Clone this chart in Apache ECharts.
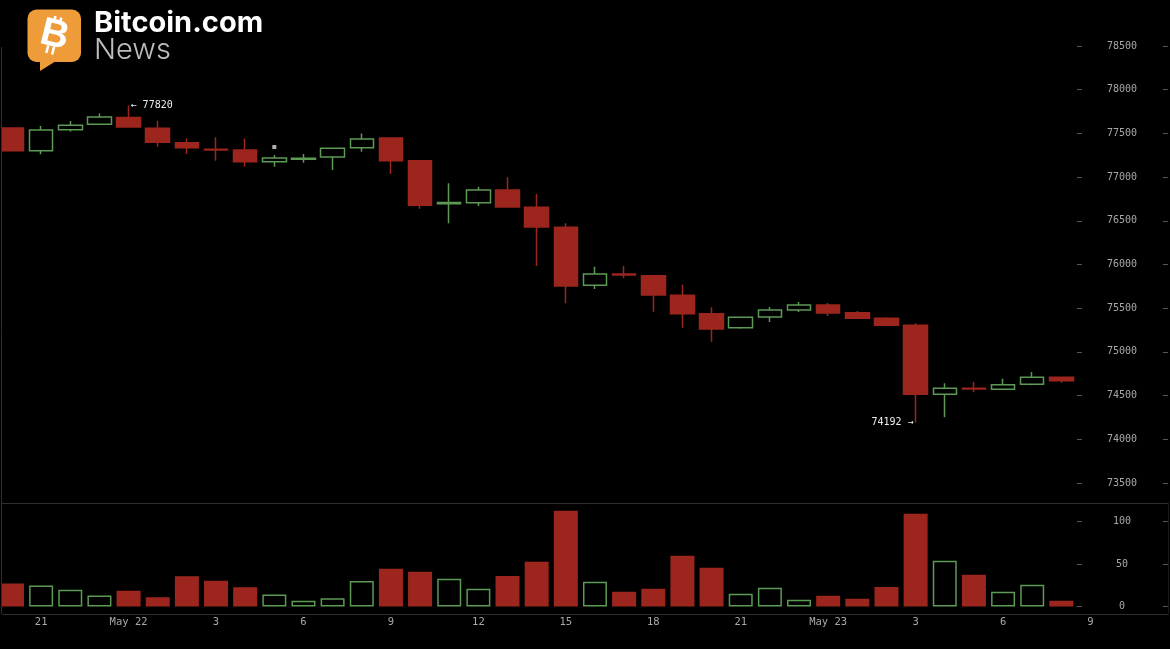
<!DOCTYPE html>
<html>
<head>
<meta charset="utf-8">
<title>BTC/USD hourly</title>
<script src="https://cdn.jsdelivr.net/npm/echarts@6/dist/echarts.min.js"></script>
<style>
html, body { margin: 0; padding: 0; background: #000; }
#chart { width: 1170px; height: 649px; filter: blur(0.35px); }
</style>
</head>
<body>
<div id="chart"></div>
<script>
// hourly candles, one label every third hour
var hourLabels = ['', '21', '', '', 'May 22', '', '', '3', '', '', '6', '', '', '9', '', '', '12', '', '', '15', '', '', '18', '', '', '21', '', '', 'May 23', '', '', '3', '', '', '6', '', '', '9', '', '', ''];
var opens  = [77561, 77301, 77542, 77604, 77683, 77558, 77393, 77320, 77309, 77176, 77205, 77229, 77336, 77447, 77187, 76695, 76707, 76852, 76654, 76425, 75762, 75890, 75872, 75647, 75437, 75275, 75399, 75479, 75536, 75448, 75384, 75304, 74515, 74585, 74572, 74629, 74709];
var closes = [77301, 77538, 77592, 77687, 77573, 77398, 77336, 77310, 77176, 77218, 77215, 77329, 77435, 77187, 76677, 76710, 76852, 76657, 76429, 75754, 75891, 75880, 75651, 75437, 75262, 75395, 75479, 75536, 75445, 75384, 75304, 74515, 74583, 74575, 74625, 74709, 74670];
var lows   = [77295, 77260, 77523, 77600, 77570, 77347, 77264, 77187, 77118, 77118, 77164, 77081, 77290, 77035, 76638, 76471, 76669, 76655, 75982, 75556, 75719, 75845, 75460, 75277, 75116, 75265, 75342, 75456, 75410, 75375, 75300, 74192, 74252, 74538, 74564, 74618, 74647];
var highs  = [77565, 77584, 77641, 77729, 77820, 77645, 77443, 77455, 77443, 77252, 77264, 77335, 77500, 77450, 77190, 76929, 76890, 76997, 76806, 76471, 75975, 75982, 75880, 75769, 75510, 75400, 75513, 75570, 75560, 75468, 75395, 75327, 74641, 74659, 74693, 74770, 74712];
var volumes = [27, 24.7, 19.6, 13, 18.4, 11, 35.7, 30.2, 22.7, 14, 6.7, 9.8, 30, 44.3, 41, 32.6, 21, 36, 52.6, 112.6, 29, 17.3, 21, 59.6, 45.5, 15, 22, 7.9, 12.6, 9, 23, 109, 53.8, 37.3, 17.3, 25.5, 6.7];
var priceTicks = [73500, 74000, 74500, 75000, 75500, 76000, 76500, 77000, 77500, 78000, 78500];
var volumeTicks = [0, 50, 100];
var markerDot = [9, 77344];

var RED = '#9c261e', GREEN = '#5c9a55', AXIS = '#2e2e2e', TICK = '#555', LABEL = '#a8a8a8';
var MONO = '"DejaVu Sans Mono", monospace';

var candleData = opens.map(function (o, i) { return [o, closes[i], lows[i], highs[i]]; });
var volumeData = volumes.map(function (v, i) {
    var up = closes[i] > opens[i];
    return {
        value: v,
        itemStyle: { color: up ? '#000' : RED, borderColor: up ? GREEN : RED, borderWidth: 1.5 }
    };
});

// a right hand value axis, moved back in from the edge of the grid
function sideAxis(grid, min, max, ticks, offset, withLabels, withLine) {
    return {
        type: 'value', gridIndex: grid, position: 'right', offset: offset,
        min: min, max: max, splitLine: { show: false },
        axisLine: { show: withLine, lineStyle: { color: AXIS } },
        axisTick: { show: true, inside: true, length: 5, customValues: ticks, lineStyle: { color: TICK } },
        axisLabel: {
            show: withLabels, inside: true, margin: 46, align: 'center', customValues: ticks,
            color: LABEL, fontFamily: MONO, fontSize: 10,
            formatter: function (v) { return String(v); }
        }
    };
}

var option = {
    backgroundColor: '#000',
    animation: false,
    grid: [
        { left: -2.6, top: 46, width: 1195.15, height: 457, outerBoundsMode: 'none' },
        { left: -2.6, top: 503, width: 1195.15, height: 111, outerBoundsMode: 'none' }
    ],
    xAxis: [
        {
            type: 'category', gridIndex: 0, data: hourLabels,
            axisLine: { onZero: false, lineStyle: { color: AXIS } },
            axisTick: { show: false }, axisLabel: { show: false }
        },
        {
            type: 'category', gridIndex: 1, data: hourLabels,
            axisLine: { onZero: false, lineStyle: { color: AXIS } },
            axisTick: { show: false },
            axisLabel: { interval: 0, margin: 3, color: LABEL, fontFamily: MONO, fontSize: 10.5 }
        }
    ],
    yAxis: [
        sideAxis(0, 73271, 78500, priceTicks, -24.6, true, false),
        sideAxis(0, 73271, 78500, priceTicks, -110.6, false, false),
        sideAxis(1, -8.82, 121.76, volumeTicks, -24.6, true, true),
        sideAxis(1, -8.82, 121.76, volumeTicks, -110.6, false, false)
    ],
    series: [
        {
            type: 'candlestick', xAxisIndex: 0, yAxisIndex: 0, data: candleData, barWidth: 24,
            itemStyle: { color: '#000', color0: RED, borderColor: GREEN, borderColor0: RED, borderWidth: 1.5 },
            markPoint: {
                symbol: 'circle', symbolSize: 0, silent: true,
                data: [
                    { coord: [4, highs[4]], label: { formatter: '← ' + highs[4], position: 'right', distance: 2 } },
                    { coord: [31, lows[31]], label: { formatter: lows[31] + ' →', position: 'left', distance: 2 } }
                ],
                label: { color: '#eee', fontFamily: MONO, fontSize: 10 }
            }
        },
        {
            type: 'scatter', xAxisIndex: 0, yAxisIndex: 0, data: [markerDot],
            symbol: 'rect', symbolSize: 4, itemStyle: { color: '#ddd' }
        },
        { type: 'bar', xAxisIndex: 1, yAxisIndex: 2, data: volumeData, barWidth: 24 }
    ],
    graphic: [
        // left frame line, the first candle is cut off by it
        { type: 'rect', z: 100, shape: { x: 0, y: 0, width: 2, height: 649 }, style: { fill: '#000' } },
        { type: 'line', z: 101, shape: { x1: 1.5, y1: 47, x2: 1.5, y2: 614 }, style: { stroke: AXIS, lineWidth: 1 } },
        { type: 'rect', z: 100, shape: { x: 1168.5, y: 0, width: 2, height: 649 }, style: { fill: '#000' } },
        // logo
        { type: 'rect', z: 102, shape: { x: 27.5, y: 9.5, width: 53.5, height: 52.5, r: 9 }, style: { fill: '#ee9b3a' } },
        { type: 'polygon', z: 102, shape: { points: [[40, 60], [40, 71], [56, 61]] }, style: { fill: '#ee9b3a' } },
        {
            type: 'group', z: 103, x: 54.5, y: 35.5, rotation: -14 * Math.PI / 180,
            children: [
                { type: 'text', z: 103, style: { x: 0, y: 0, text: 'B', fill: '#fff', font: 'bold 39px "Liberation Sans"', align: 'center', verticalAlign: 'middle' } },
                { type: 'rect', z: 103, shape: { x: -5, y: -19, width: 2.6, height: 7 }, style: { fill: '#fff' } },
                { type: 'rect', z: 103, shape: { x: 1, y: -19, width: 2.6, height: 7 }, style: { fill: '#fff' } },
                { type: 'rect', z: 103, shape: { x: -5, y: 11, width: 2.6, height: 8 }, style: { fill: '#fff' } },
                { type: 'rect', z: 103, shape: { x: 1, y: 11, width: 2.6, height: 8 }, style: { fill: '#fff' } }
            ]
        },
        { type: 'text', z: 103, style: { x: 94, y: 23, text: 'Bitcoin.com', fill: '#fff', font: 'bold 29px Inter', verticalAlign: 'middle' } },
        { type: 'text', z: 103, style: { x: 94, y: 50, text: 'News', fill: '#bdbdbd', font: '300 29px Inter', verticalAlign: 'middle' } }
    ]
};

var chart = echarts.init(document.getElementById('chart'));
chart.setOption(option);
</script>
</body>
</html>
